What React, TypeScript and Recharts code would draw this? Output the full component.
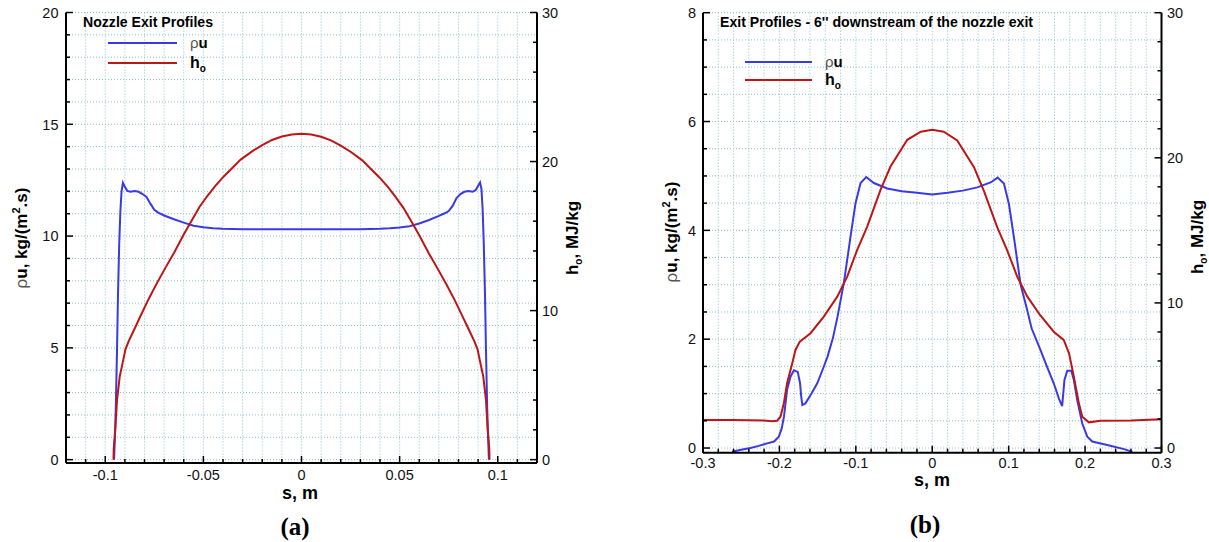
import React from "react";
import { ComposedChart, Line, XAxis, YAxis, CartesianGrid, Legend } from "recharts";

// (a) nozzle exit: rho*u
const sRhoA = [
  -0.0955, -0.095, -0.0946, -0.094, -0.0935, -0.0929, -0.0923, -0.0917, -0.091, -0.09,
  -0.0887, -0.0872, -0.085, -0.083, -0.081, -0.079, -0.077, -0.075, -0.073, -0.07,
  -0.065, -0.06, -0.055, -0.05, -0.045, -0.04, -0.03, -0.02, -0.01, 0,
  0.01, 0.02, 0.03, 0.04, 0.045, 0.05, 0.055, 0.06, 0.065, 0.07,
  0.073, 0.075, 0.077, 0.079, 0.081, 0.083, 0.085, 0.0872, 0.0887, 0.09,
  0.091, 0.0917, 0.0923, 0.0929, 0.0935, 0.094, 0.0946, 0.095, 0.0955,
];
const rhoA = [
  0, 1.2, 2.4, 4.9, 7.4, 9.6, 11.1, 12.0, 12.38, 12.2,
  12.02, 11.98, 12.02, 11.98, 11.88, 11.75, 11.45, 11.18, 11.05, 10.92,
  10.75, 10.6, 10.46, 10.39, 10.35, 10.33, 10.31, 10.3, 10.3, 10.3,
  10.3, 10.3, 10.31, 10.33, 10.35, 10.38, 10.44, 10.56, 10.72, 10.9,
  11.02, 11.12, 11.35, 11.7, 11.88, 11.98, 12.02, 11.98, 12.05, 12.25,
  12.4, 12.1, 11.2, 9.6, 7.4, 4.9, 2.4, 1.2, 0,
];

// (a) nozzle exit: total enthalpy
const sHA = [
  -0.0958, -0.0957, -0.0948, -0.094, -0.0926, -0.0915, -0.0897, -0.0881, -0.085, -0.0821,
  -0.078, -0.0736, -0.069, -0.065, -0.06, -0.0566, -0.052, -0.0481, -0.044, -0.0396,
  -0.035, -0.031, -0.025, -0.02, -0.015, -0.01, -0.005, 0,
  0.005, 0.01, 0.015, 0.02, 0.025, 0.031, 0.035, 0.0396, 0.044, 0.0481,
  0.052, 0.0566, 0.06, 0.065, 0.069, 0.0736, 0.078, 0.0821, 0.085, 0.0881,
  0.0897, 0.0915, 0.0926, 0.094, 0.0948, 0.0957, 0.0958,
];
const hA = [
  0, 0.67, 2.2, 4.0, 5.6, 6.26, 7.4, 7.94, 8.8, 9.62,
  10.75, 11.86, 12.95, 13.87, 15.1, 15.9, 16.95, 17.67, 18.35, 19.0,
  19.6, 20.13, 20.7, 21.1, 21.45, 21.68, 21.82, 21.86,
  21.82, 21.66, 21.42, 21.07, 20.66, 20.08, 19.55, 18.95, 18.3, 17.6,
  16.88, 15.85, 15.05, 13.82, 12.9, 11.82, 10.72, 9.6, 8.8, 7.94,
  7.4, 6.26, 5.6, 4.0, 2.2, 0.67, 0,
];

// (b) 6" downstream: rho*u
const sRhoB = [
  -0.262, -0.25, -0.238, -0.227, -0.216, -0.207, -0.2008, -0.197, -0.194, -0.192,
  -0.19, -0.1855, -0.181, -0.176, -0.173, -0.1715, -0.17, -0.166, -0.158, -0.1505,
  -0.144, -0.137, -0.13, -0.124, -0.1157, -0.107, -0.1004, -0.0938, -0.0864, -0.0764,
  -0.0589, -0.04, -0.02, 0,
  0.02, 0.04, 0.0589, 0.0764, 0.0856, 0.0938, 0.1004, 0.107, 0.1157, 0.124,
  0.13, 0.1417, 0.15, 0.159, 0.166, 0.17, 0.173, 0.1767, 0.182, 0.1853,
  0.1897, 0.1963, 0.2029, 0.2094, 0.229, 0.251, 0.262,
];
const rhoB = [
  -0.07, -0.03, 0.0, 0.04, 0.086, 0.12, 0.21, 0.36, 0.58, 0.82,
  1.07, 1.31, 1.43, 1.4, 1.19, 0.95, 0.79, 0.82, 1.0, 1.19,
  1.42, 1.68, 2.02, 2.41, 3.03, 3.88, 4.5, 4.87, 4.98, 4.87,
  4.77, 4.72, 4.69, 4.66,
  4.69, 4.73, 4.79, 4.88, 4.97, 4.86, 4.48, 3.86, 3.0, 2.55,
  2.2, 1.8, 1.5, 1.19, 0.9, 0.77, 1.25, 1.42, 1.42, 1.25,
  0.88, 0.45, 0.21, 0.12, 0.055, -0.02, -0.07,
];

// (b) 6" downstream: total enthalpy
const sHB = [
  -0.3, -0.26, -0.22, -0.21, -0.203, -0.1986, -0.1942, -0.19, -0.1832, -0.179,
  -0.1733, -0.1593, -0.1419, -0.1243, -0.1113, -0.0982, -0.0851, -0.0677, -0.0546, -0.0327,
  -0.015, 0,
  0.015, 0.0327, 0.0546, 0.0677, 0.0851, 0.0982, 0.1113, 0.1243, 0.141, 0.1593,
  0.172, 0.179, 0.1853, 0.1919, 0.1963, 0.205, 0.22, 0.26, 0.3,
];
const hB = [
  1.93, 1.93, 1.9, 1.85, 1.88, 2.16, 3.08, 4.46, 5.84, 6.76,
  7.33, 7.91, 9.06, 10.43, 11.81, 13.66, 15.26, 17.79, 19.4, 21.24,
  21.8, 21.93,
  21.8, 21.2, 19.35, 17.7, 15.2, 13.6, 11.8, 10.45, 9.17, 8.0,
  7.45, 6.53, 4.92, 3.08, 2.16, 1.77, 1.88, 1.9, 1.98,
];

// axis tick labels
const aXMajor = [-0.1, -0.05, 0, 0.05, 0.1];
const aXLabels = ["-0.1", "-0.05", "0", "0.05", "0.1"];
const aLMajor = [0, 5, 10, 15, 20];
const aLLabels = ["0", "5", "10", "15", "20"];
const bXMajor = [-0.3, -0.2, -0.1, 0, 0.1, 0.2, 0.3];
const bXLabels = ["-0.3", "-0.2", "-0.1", "0", "0.1", "0.2", "0.3"];
const bLMajor = [0, 2, 4, 6, 8];
const bLLabels = ["0", "2", "4", "6", "8"];
const hMajor = [0, 10, 20, 30];
const hLabels = ["0", "10", "20", "30"];

const BLUE = "#3a3ae4";
const RED = "#bd1616";
const GRID = "#8cbfd2";
const FONT = "'Liberation Sans', Arial, Helvetica, sans-serif";

const pts = (s: number[], v: number[]) => s.map((x, i) => ({ s: x, v: v[i] }));

const steps = (lo: number, hi: number, step: number) => {
  const n = Math.round((hi - lo) / step);
  const out: number[] = [];
  for (let i = 0; i <= n; i++) out.push(Math.round((lo + i * step) * 1e6) / 1e6);
  return out;
};

const findMajor = (majors: number[], v: number) =>
  majors.findIndex((m) => Math.abs(m - v) < 1e-9);

function YTick(props: any) {
  const { x, y, payload, side, majors, labels, gap } = props;
  const i = findMajor(majors, payload.value);
  const dir = side === "left" ? 1 : -1;
  const len = i >= 0 ? 7 : 4;
  return (
    <g>
      <line x1={x} y1={y} x2={x + dir * len} y2={y} stroke="#000" strokeWidth={1.5} />
      {i >= 0 && (
        <text
          x={side === "left" ? x - gap : x + gap}
          y={y}
          dy="0.36em"
          textAnchor={side === "left" ? "end" : "start"}
          fontSize={14.5}
          fontFamily={FONT}
          fill="#111"
        >
          {labels[i]}
        </text>
      )}
    </g>
  );
}

function XTick(props: any) {
  const { x, y, payload, majors, labels, gap } = props;
  const i = findMajor(majors, payload.value);
  const len = i >= 0 ? 7 : 4;
  return (
    <g>
      <line x1={x} y1={y} x2={x} y2={y - len} stroke="#000" strokeWidth={1.5} />
      {i >= 0 && (
        <text x={x} y={y + gap} textAnchor="middle" fontSize={14.5} fontFamily={FONT} fill="#111">
          {labels[i]}
        </text>
      )}
    </g>
  );
}

const legendContent = (len: number, dy: number) => (props: any) => {
  const raw = props.payload || [];
  const items = [...raw].sort((a: any, b: any) => (a.value === "ρu" ? -1 : b.value === "ρu" ? 1 : 0));
  return (
    <svg width={140} height={50} style={{ overflow: "visible", display: "block" }}>
      {items.map((p: any, i: number) => {
        const ly = 6 + i * dy;
        return (
          <g key={i}>
            <line x1={0} x2={len} y1={ly} y2={ly} stroke={p.color} strokeWidth={2.2} />
            {p.value === "ρu" ? (
              <text x={len + 13} y={ly + 5} fontFamily={FONT} fontSize={15}>
                <tspan fill="#555">ρ</tspan>
                <tspan fontWeight="bold" fill="#000">u</tspan>
              </text>
            ) : (
              <text x={len + 13} y={ly + 5} fontFamily={FONT} fontSize={16} fontWeight="bold">
                h<tspan fontSize={10} dy={4}>o</tspan>
              </text>
            )}
          </g>
        );
      })}
    </svg>
  );
};

function Panel(props: any) {
  const { width, margin, xDomain, xTicks, xMajor, xLabels, xGap, lDomain, lTicks, lMajor, lLabels,
    rDomain, rTicks, lGap, rGap, rWidth, rho, h, legendPos, legendLen, legendDy } = props;
  return (
    <ComposedChart width={width} height={542} margin={margin}>
      <CartesianGrid yAxisId="l" stroke={GRID} strokeDasharray="1 2" strokeWidth={1} />
      <XAxis
        type="number"
        dataKey="s"
        domain={xDomain}
        ticks={xTicks}
        interval={0}
        allowDataOverflow
        height={30}
        tickSize={0}
        tickMargin={0}
        tickLine={false}
        axisLine={{ stroke: "#000", strokeWidth: 2 }}
        tick={(p: any) => <XTick {...p} majors={xMajor} labels={xLabels} gap={xGap} />}
      />
      <YAxis
        yAxisId="l"
        orientation="left"
        type="number"
        domain={lDomain}
        ticks={lTicks}
        interval={0}
        allowDataOverflow
        width={60}
        tickSize={0}
        tickMargin={0}
        tickLine={false}
        axisLine={{ stroke: "#000", strokeWidth: 2 }}
        tick={(p: any) => <YTick {...p} side="left" majors={lMajor} labels={lLabels} gap={lGap} />}
      />
      <YAxis
        yAxisId="r"
        orientation="right"
        type="number"
        domain={rDomain}
        ticks={rTicks}
        interval={0}
        allowDataOverflow
        width={rWidth}
        tickSize={0}
        tickMargin={0}
        tickLine={false}
        axisLine={{ stroke: "#000", strokeWidth: 2 }}
        tick={(p: any) => <YTick {...p} side="right" majors={hMajor} labels={hLabels} gap={rGap} />}
      />
      <Legend
        layout="horizontal"
        verticalAlign="middle"
        align="center"
        wrapperStyle={{ left: legendPos[0], top: legendPos[1], width: 140, height: 50 }}
        content={legendContent(legendLen, legendDy)}
      />
      <Line
        yAxisId="l"
        data={rho}
        dataKey="v"
        name="ρu"
        type="linear"
        stroke={BLUE}
        strokeWidth={2}
        dot={false}
        activeDot={false}
        isAnimationActive={false}
      />
      <Line
        yAxisId="r"
        data={h}
        dataKey="v"
        name="ho"
        type="linear"
        stroke={RED}
        strokeWidth={2}
        dot={false}
        activeDot={false}
        isAnimationActive={false}
      />
    </ComposedChart>
  );
}

function RhoTitle({ x, y }: { x: number; y: number }) {
  return (
    <text transform={`translate(${x},${y}) rotate(-90)`} textAnchor="middle" fontFamily={FONT} fontSize={17} fontWeight="bold">
      <tspan fontWeight="normal" fill="#555">ρ</tspan>
      <tspan>u, kg/(m</tspan>
      <tspan fontSize={11} dy={-7}>2</tspan>
      <tspan dy={7}>.s)</tspan>
    </text>
  );
}

function HTitle({ x, y }: { x: number; y: number }) {
  return (
    <text transform={`translate(${x},${y}) rotate(-90)`} textAnchor="middle" fontFamily={FONT} fontSize={17} fontWeight="bold">
      <tspan>h</tspan>
      <tspan fontSize={10} dy={4}>o</tspan>
      <tspan dy={-4}>, MJ/kg</tspan>
    </text>
  );
}

export default function App() {
  return (
    <div style={{ position: "absolute", left: 0, top: 0, width: 1209, height: 542, background: "#fff", overflow: "hidden" }}>
      <div style={{ position: "absolute", left: 0, top: 0 }}>
        <Panel
          width={600}
          margin={{ top: 12.5, right: 3, bottom: 49, left: 6 }}
          xDomain={[-0.12, 0.12]}
          xTicks={steps(-0.12, 0.12, 0.01)}
          xMajor={aXMajor}
          xLabels={aXLabels}
          xGap={17}
          lDomain={[-0.15, 20]}
          lTicks={steps(0, 20, 1)}
          lMajor={aLMajor}
          lLabels={aLLabels}
          rDomain={[-0.225, 30]}
          rTicks={steps(0, 30, 2)}
          lGap={7.5}
          rGap={5}
          rWidth={60}
          rho={pts(sRhoA, rhoA)}
          h={pts(sHA, hA)}
          legendPos={[108, 37]}
          legendLen={69}
          legendDy={20}
        />
      </div>
      <div style={{ position: "absolute", left: 600, top: 0 }}>
        <Panel
          width={609}
          margin={{ top: 12.7, right: 7.5, bottom: 59.3, left: 43 }}
          xDomain={[-0.3, 0.3]}
          xTicks={steps(-0.3, 0.3, 0.02)}
          xMajor={bXMajor}
          xLabels={bXLabels}
          xGap={15}
          lDomain={[-0.086, 8]}
          lTicks={steps(0, 8, 0.5)}
          lMajor={bLMajor}
          lLabels={bLLabels}
          rDomain={[-0.3225, 30]}
          rTicks={steps(0, 30, 2)}
          lGap={7}
          rGap={5.5}
          rWidth={40}
          rho={pts(sRhoB, rhoB)}
          h={pts(sHB, hB)}
          legendPos={[145, 56]}
          legendLen={67}
          legendDy={18}
        />
      </div>
      <svg width={1209} height={542} style={{ position: "absolute", left: 0, top: 0, pointerEvents: "none" }}>
        <text x={83} y={27} fontFamily={FONT} fontSize={15} fontWeight="bold" textLength={130} lengthAdjust="spacingAndGlyphs">
          Nozzle Exit Profiles
        </text>
        <text x={720} y={27} fontFamily={FONT} fontSize={15} fontWeight="bold" textLength={313} lengthAdjust="spacingAndGlyphs">
          Exit Profiles - 6'' downstream of the nozzle exit
        </text>
        <RhoTitle x={27} y={238} />
        <HTitle x={578} y={238} />
        <RhoTitle x={677} y={232} />
        <HTitle x={1203} y={237} />
        <text x={300} y={499} textAnchor="middle" fontFamily={FONT} fontSize={18} fontWeight="bold">s, m</text>
        <text x={932} y={486} textAnchor="middle" fontFamily={FONT} fontSize={18} fontWeight="bold">s, m</text>
        <text x={295} y={535} textAnchor="middle" fontFamily="'Liberation Serif', 'Times New Roman', serif" fontSize={25} fontWeight="bold">(a)</text>
        <text x={925} y={533} textAnchor="middle" fontFamily="'Liberation Serif', 'Times New Roman', serif" fontSize={25} fontWeight="bold">(b)</text>
      </svg>
    </div>
  );
}
